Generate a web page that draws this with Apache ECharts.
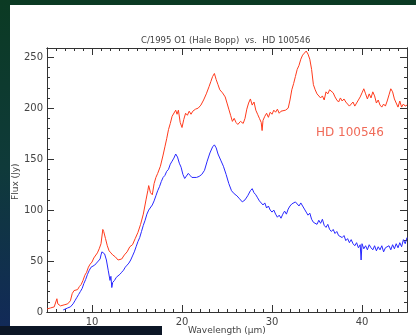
<!DOCTYPE html>
<html>
<head>
<meta charset="utf-8">
<script src="https://cdn.jsdelivr.net/npm/echarts@6/dist/echarts.min.js"></script>
<style>
  html, body { margin: 0; padding: 0; }
  body { width: 416px; height: 335px; position: relative; overflow: hidden;
         background: linear-gradient(#0b3a23 0%, #0f3a3a 50%, #12295a 100%); }
  #panel { position: absolute; left: 10px; top: 5px; width: 406px; height: 330px; background: #ffffff; }
  #strip { position: absolute; left: 0; top: 326px; width: 162px; height: 9px; background: #0c1626; }
  #chart { position: absolute; left: 0; top: 0; width: 416px; height: 335px; }
</style>
</head>
<body>
<div id="panel"></div>
<div id="strip"></div>
<div id="chart"></div>
<script>
// HD 100546 spectrum (red) : wavelength in micron, flux in Jy
const redWave = [5.0,5.4,5.8,6.0,6.1,6.2,6.5,6.9,7.3,7.6,7.8,8.0,8.2,8.4,8.6,8.8,9.0,9.2,9.4,9.6,9.8,10.0,10.2,10.4,10.6,10.8,11.0,11.2,11.3,11.5,11.7,11.9,12.1,12.3,12.6,12.9,13.1,13.3,13.6,13.9,14.2,14.5,14.8,15.1,15.4,15.7,16.0,16.2,16.3,16.5,16.7,16.9,17.1,17.3,17.6,17.9,18.1,18.3,18.5,18.7,18.9,19.1,19.3,19.45,19.6,19.8,20.0,20.2,20.4,20.6,20.8,21.0,21.2,21.5,21.8,22.1,22.4,22.7,23.0,23.2,23.4,23.6,23.8,24.0,24.2,24.5,24.8,25.0,25.2,25.4,25.6,25.8,26.0,26.2,26.5,26.8,27.0,27.2,27.4,27.6,27.8,28.0,28.2,28.4,28.6,28.8,28.9,29.0,29.2,29.4,29.6,29.8,30.0,30.2,30.4,30.6,30.8,31.0,31.2,31.5,31.8,32.0,32.2,32.4,32.6,32.8,33.0,33.2,33.4,33.6,33.8,34.0,34.2,34.4,34.6,34.8,35.0,35.2,35.4,35.6,35.8,36.0,36.2,36.4,36.6,36.8,37.0,37.2,37.4,37.6,37.8,38.0,38.2,38.4,38.6,38.8,39.0,39.2,39.4,39.6,39.8,40.0,40.2,40.4,40.6,40.8,41.0,41.2,41.4,41.6,41.8,42.0,42.2,42.4,42.6,42.8,43.0,43.2,43.4,43.6,43.8,44.0,44.2,44.4,44.6,44.8,45.0];
const redFlux = [3,4,5,6,13,8,6,7,8,11,18,21,20,22,25,27,31,36,39,44,47,49,53,54,58,62,67,81,79,72,65,60,58,56,54,51,50,52,56,59,64,66,72,78,86,96,110,119,124,117,115,126,132,136,143,154,162,170,179,185,192,193,198,194,198,186,181,189,195,193,197,194,197,199,200,203,208,214,221,226,231,234,228,223,218,215,211,205,199,193,187,190,186,184,187,185,190,199,205,209,203,206,198,194,190,186,178,188,192,195,191,196,194,198,196,199,195,197,196,198,200,208,218,224,231,238,242,248,252,254,256,253,248,238,223,218,214,215,210,212,208,216,214,218,219,215,211,208,206,210,207,209,206,205,202,204,206,202,205,208,211,215,219,214,209,214,210,216,212,205,208,203,201,204,202,207,213,219,216,209,205,201,207,201,204,202,203];

// Hale-Bopp spectrum (blue)
const blueWave = [6.8,7.0,7.3,7.6,7.9,8.1,8.3,8.5,8.7,8.9,9.1,9.3,9.5,9.7,9.9,10.1,10.3,10.5,10.7,10.9,11.0,11.1,11.2,11.4,11.6,11.8,12.0,12.1,12.2,12.3,12.5,12.7,12.9,13.1,13.3,13.5,13.7,13.9,14.1,14.3,14.5,14.7,14.9,15.1,15.3,15.5,15.7,15.9,16.1,16.3,16.5,16.7,16.9,17.1,17.3,17.5,17.7,17.9,18.1,18.3,18.5,18.7,18.9,19.1,19.3,19.5,19.7,19.9,20.1,20.3,20.5,20.7,20.9,21.1,21.3,21.6,21.9,22.2,22.5,22.8,23.1,23.4,23.6,23.8,24.0,24.3,24.6,24.9,25.2,25.5,25.8,26.1,26.4,26.7,27.0,27.3,27.6,27.8,28.0,28.2,28.4,28.6,28.8,29.0,29.2,29.4,29.6,29.8,30.0,30.2,30.4,30.6,30.8,31.0,31.2,31.4,31.6,31.8,32.0,32.2,32.4,32.6,32.8,33.0,33.2,33.4,33.6,33.8,34.0,34.2,34.4,34.6,34.8,35.0,35.2,35.4,35.6,35.8,36.0,36.2,36.4,36.6,36.8,37.0,37.2,37.4,37.6,37.8,38.0,38.2,38.4,38.6,38.8,39.0,39.2,39.4,39.6,39.8,39.9,40.0,40.2,40.4,40.6,40.8,41.0,41.2,41.4,41.6,41.8,42.0,42.2,42.4,42.6,42.8,43.0,43.2,43.4,43.6,43.8,44.0,44.2,44.4,44.6,44.8,45.0];
const blueFlux = [2,3,4,5,8,11,14,17,20,23,28,32,37,41,44,45,46,48,50,52,56,59,58,57,51,41,31,35,24,29,31,34,35,37,39,41,44,46,48,51,55,59,64,69,73,79,85,90,96,100,101,105,109,114,119,123,128,132,134,138,140,145,148,151,155,152,146,142,135,131,132,136,134,132,131,132,133,135,139,148,156,162,164,161,155,149,143,135,126,119,116,114,111,108,110,114,119,121,117,115,112,109,108,105,107,102,104,100,98,100,96,93,95,92,96,99,96,101,104,106,105,108,107,104,107,104,101,98,95,97,91,88,89,86,90,87,91,85,83,86,81,79,81,77,79,75,76,73,75,70,72,68,71,67,65,68,63,66,51,67,62,65,61,66,63,61,65,60,64,61,65,59,63,62,65,61,66,62,67,63,68,64,71,67,73];

const xTickLabels = [10, 20, 30, 40];
const yTickLabels = [0, 50, 100, 150, 200, 250];
const xRange = [5, 45];
const yRange = [0, 259];

const pairs = (xs, ys) => xs.map((x, i) => [x, ys[i]]);

const tickColor = '#333333';
const labelStyle = { color: '#444', fontSize: 10, fontFamily: 'DejaVu Sans' };

// frame side with major ticks (and labels on the bottom/left sides)
function majorAxis(range, position, ticks, showLabel, margin) {
  return {
    type: 'value', position: position, min: range[0], max: range[1],
    axisLine: { show: true, onZero: false, lineStyle: { color: tickColor } },
    axisTick: { show: true, inside: true, length: 7, customValues: ticks, lineStyle: { color: tickColor } },
    axisLabel: Object.assign({ show: showLabel, customValues: ticks, margin: margin }, labelStyle),
    splitLine: { show: false }
  };
}
// frame side with minor ticks every 1 micron / 10 Jy
function minorAxis(range, position, step) {
  return {
    type: 'value', position: position, min: range[0], max: range[1], interval: step,
    axisLine: { show: true, onZero: false, lineStyle: { color: tickColor } },
    axisTick: { show: true, inside: true, length: 3, lineStyle: { color: tickColor } },
    axisLabel: { show: false },
    splitLine: { show: false }
  };
}

const chart = echarts.init(document.getElementById('chart'));

chart.setOption({
  animation: false,
  backgroundColor: 'transparent',
  grid: { left: 47, right: 9, top: 48, bottom: 23, containLabel: false },
  xAxis: [
    majorAxis(xRange, 'bottom', xTickLabels, true, 5),
    minorAxis(xRange, 'bottom', 1),
    majorAxis(xRange, 'top', xTickLabels, false, 0),
    minorAxis(xRange, 'top', 1)
  ],
  yAxis: [
    majorAxis(yRange, 'left', yTickLabels, true, 4),
    minorAxis(yRange, 'left', 10),
    majorAxis(yRange, 'right', yTickLabels, false, 0),
    minorAxis(yRange, 'right', 10)
  ],
  graphic: [
    { type: 'text', z: 50, left: 141, top: 36, style: { text: 'C/1995 O1 (Hale Bopp)  vs.  HD 100546', fill: '#444', fontSize: 8.5, fontFamily: 'DejaVu Sans' } },
    { type: 'text', z: 50, left: 316, top: 127, style: { text: 'HD 100546', fill: '#f06a58', fontSize: 12, fontFamily: 'DejaVu Sans' } },
    { type: 'text', z: 50, left: 188, top: 326, style: { text: 'Wavelength (\u03bcm)', fill: '#444', fontSize: 9, fontFamily: 'DejaVu Sans' } },
    { type: 'text', z: 50, x: 11, y: 200, rotation: Math.PI / 2, style: { text: 'Flux (Jy)', fill: '#444', fontSize: 9, fontFamily: 'DejaVu Sans' } }
  ],
  series: [
    {
      name: 'HD 100546', type: 'line', xAxisIndex: 0, yAxisIndex: 0,
      data: pairs(redWave, redFlux), showSymbol: false, symbol: 'none',
      lineStyle: { color: '#ff3a1c', width: 1 }
    },
    {
      name: 'C/1995 O1', type: 'line', xAxisIndex: 0, yAxisIndex: 0,
      data: pairs(blueWave, blueFlux), showSymbol: false, symbol: 'none',
      lineStyle: { color: '#2828ff', width: 1 }
    }
  ]
});
</script>
</body>
</html>
